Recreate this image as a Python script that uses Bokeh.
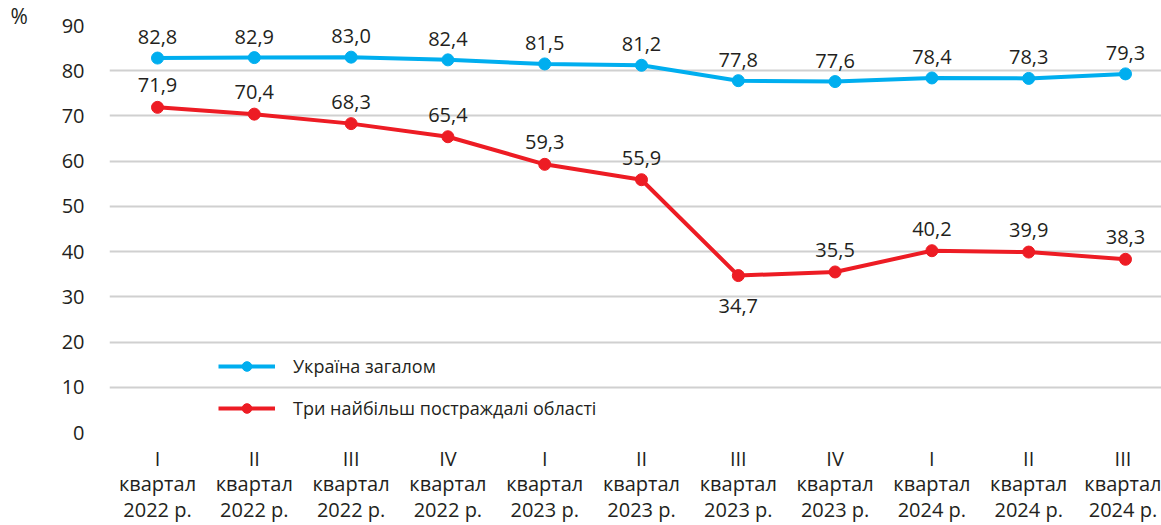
from bokeh.plotting import figure
from bokeh.models import Range1d, FixedTicker, Legend, LegendItem, Title, ColumnDataSource
from bokeh.core.properties import value
from bokeh.embed import file_html
from bokeh.resources import INLINE

quarters = ["I", "II", "III", "IV", "I", "II", "III", "IV", "I", "II", "III"]
years = ["2022 р.", "2022 р.", "2022 р.", "2022 р.", "2023 р.", "2023 р.",
         "2023 р.", "2023 р.", "2024 р.", "2024 р.", "2024 р."]
ukraine = [82.8, 82.9, 83.0, 82.4, 81.5, 81.2, 77.8, 77.6, 78.4, 78.3, 79.3]
three_regions = [71.9, 70.4, 68.3, 65.4, 59.3, 55.9, 34.7, 35.5, 40.2, 39.9, 38.3]
series_names = ["Україна загалом", "Три найбільш постраждалі області"]
y_ticks = [0, 10, 20, 30, 40, 50, 60, 70, 80, 90]

FONT = "Open Sans"
TXT = "#231f20"
BLUE = "#00aeef"
RED = "#ed1c24"

x = list(range(len(quarters)))

p = figure(width=1161, height=525, output_backend="svg", toolbar_location=None,
           x_range=Range1d(-0.496, 10.372), y_range=Range1d(0, 90),
           min_border_left=109, min_border_right=0, min_border_top=25,
           min_border_bottom=90)
p.outline_line_color = None
p.background_fill_color = None
p.border_fill_color = "white"

p.add_layout(Title(text="%", align="left", offset=-99, standoff=-8,
                   text_font=FONT, text_font_size="21px", text_font_style="normal",
                   text_color=TXT), "above")

# axes
p.yaxis.ticker = FixedTicker(ticks=y_ticks)
p.yaxis.axis_line_color = None
p.yaxis.major_tick_line_color = None
p.yaxis.minor_tick_line_color = None
p.yaxis.major_label_text_font = FONT
p.yaxis.major_label_text_font_size = "20px"
p.yaxis.major_label_text_color = TXT
p.yaxis.major_label_standoff = 19

p.xaxis.ticker = FixedTicker(ticks=x)
p.xaxis.major_label_overrides = {i: f"{q}\nквартал\n{y}" for i, (q, y) in enumerate(zip(quarters, years))}
p.xaxis.axis_line_color = None
p.xaxis.major_tick_line_color = None
p.xaxis.minor_tick_line_color = None
p.xaxis.major_label_text_font = FONT
p.xaxis.major_label_text_font_size = "20px"
p.xaxis.major_label_text_color = TXT
p.xaxis.major_label_standoff = 6
p.xaxis.major_label_text_line_height = 0.95

p.xgrid.grid_line_color = None
p.ygrid.ticker = FixedTicker(ticks=y_ticks)
p.ygrid.grid_line_color = "#d0d0d0"
p.ygrid.grid_line_width = 2

src_u = ColumnDataSource(dict(x=x, y=ukraine, t=[f"{v:.1f}".replace(".", ",") for v in ukraine]))
src_r = ColumnDataSource(dict(x=x, y=three_regions, t=[f"{v:.1f}".replace(".", ",") for v in three_regions]))

lu = p.line("x", "y", source=src_u, line_color=BLUE, line_width=4)
su = p.scatter("x", "y", source=src_u, size=12, fill_color=BLUE, line_color=BLUE)
lr = p.line("x", "y", source=src_r, line_color=RED, line_width=4)
sr = p.scatter("x", "y", source=src_r, size=12, fill_color=RED, line_color=RED)

p.text("x", "y", text="t", source=src_u, text_font=value(FONT), text_font_size="20px",
       text_color=TXT, text_align="center", text_baseline="middle", y_offset=-21)

red_offsets = [-22, -22, -22, -22, -22, -22, 30, -22, -22, -22, -22]
src_r.data["off"] = red_offsets
p.text("x", "y", text="t", source=src_r, text_font=value(FONT), text_font_size="20px",
       text_color=TXT, text_align="center", text_baseline="middle", y_offset="off")

legend = Legend(items=[LegendItem(label=series_names[0], renderers=[lu, su]),
                       LegendItem(label=series_names[1], renderers=[lr, sr])],
                location=(109, 12), orientation="vertical",
                glyph_width=57, glyph_height=24, label_height=24, spacing=18,
                label_standoff=18, padding=0, margin=0,
                label_text_font=FONT, label_text_font_size="18px", label_text_color=TXT,
                background_fill_alpha=0, border_line_color=None)
p.add_layout(legend)

open("out.html", "w").write(file_html(p, INLINE))
